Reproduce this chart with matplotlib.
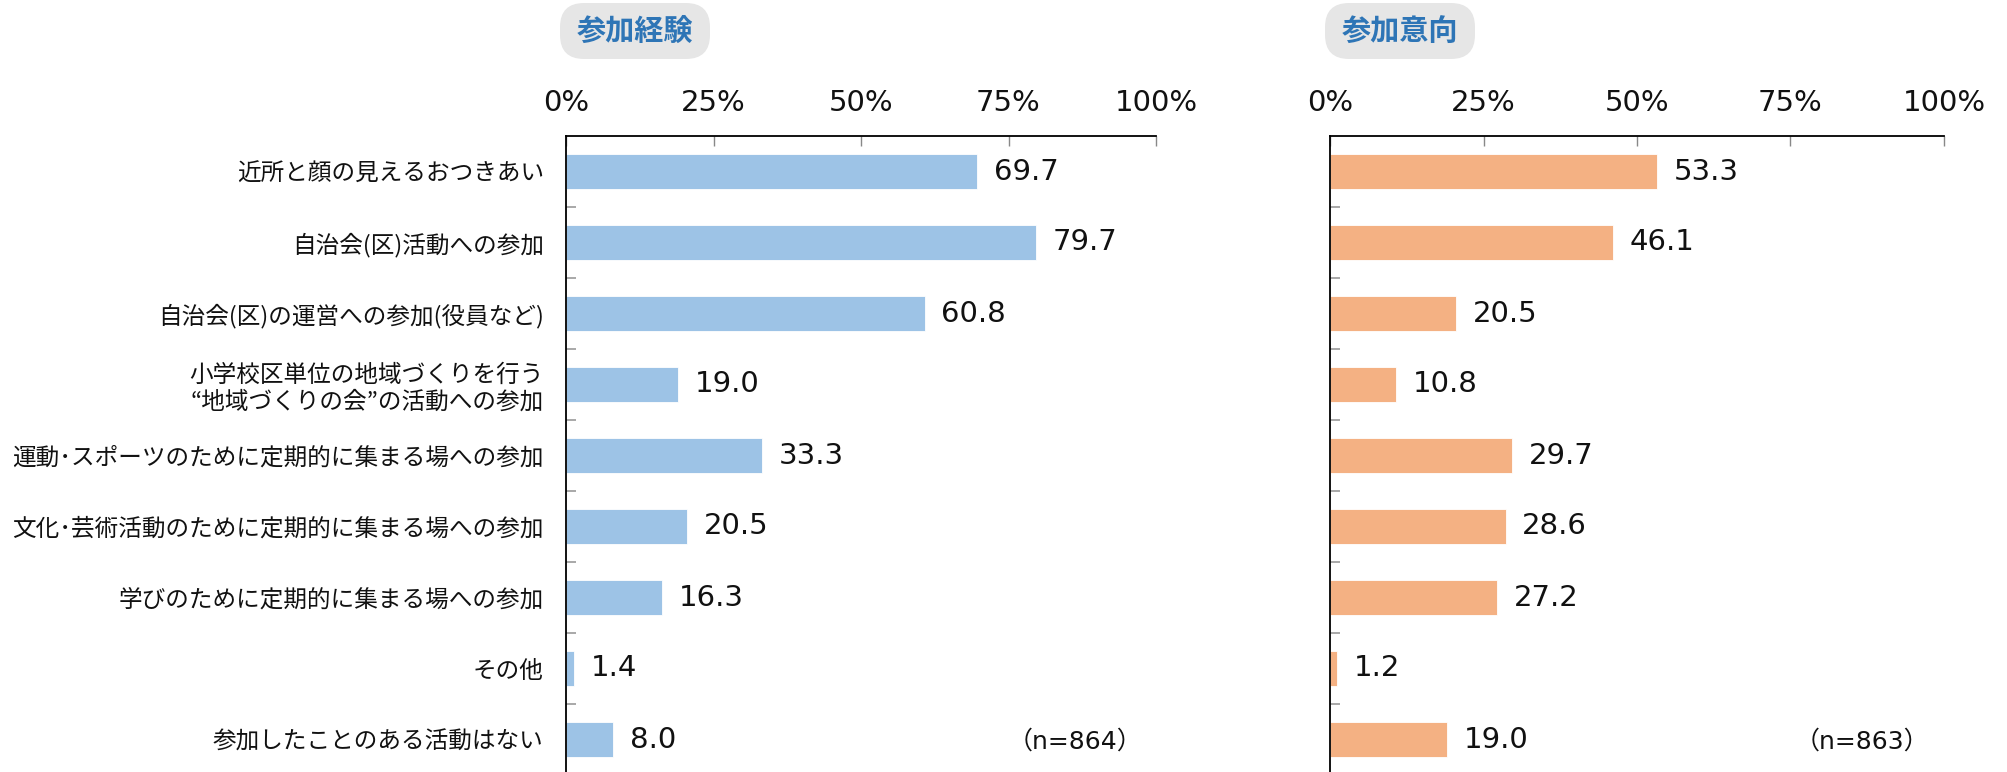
import matplotlib
matplotlib.use("Agg")
import matplotlib.pyplot as plt
from matplotlib.patches import FancyBboxPatch

plt.rcParams['font.family'] = ['Noto Sans CJK JP', 'DejaVu Sans']
NUM_FONT = ['DejaVu Sans', 'Noto Sans CJK JP']

categories = [
    "近所と顔の見えるおつきあい",
    "自治会(区)活動への参加",
    "自治会(区)の運営への参加(役員など)",
    "小学校区単位の地域づくりを行う\n“地域づくりの会”の活動への参加",
    "運動･スポーツのために定期的に集まる場への参加",
    "文化･芸術活動のために定期的に集まる場への参加",
    "学びのために定期的に集まる場への参加",
    "その他",
    "参加したことのある活動はない",
]
experience = [69.7, 79.7, 60.8, 19.0, 33.3, 20.5, 16.3, 1.4, 8.0]
intention = [53.3, 46.1, 20.5, 10.8, 29.7, 28.6, 27.2, 1.2, 19.0]
xticks = [0, 25, 50, 75, 100]
panel_titles = ["参加経験", "参加意向"]
n_labels = ["（n=864）", "（n=863）"]

W, H = 2007, 772
fig = plt.figure(figsize=(W / 100, H / 100), dpi=100)

def px_axes(x0, x1, top, bottom):
    return fig.add_axes([x0 / W, 1 - bottom / H, (x1 - x0) / W, (bottom - top) / H])

ax1 = px_axes(566, 1156, 136, 775)
ax2 = px_axes(1330, 1944, 136, 775)

def draw_panel(ax, values, color, labels):
    ypos = list(range(len(values)))
    ax.barh(ypos, values, height=0.5, color=color, edgecolor='white', linewidth=0.6)
    ax.set_xlim(0, 100)
    ax.set_ylim(len(values) - 0.5, -0.5)
    ax.xaxis.tick_top()
    ax.set_xticks(xticks)
    ax.set_xticklabels([f"{t}%" for t in xticks], fontsize=21, family=NUM_FONT, color='#111111')
    ax.tick_params(axis='x', direction='in', length=7, width=1, color='#888888', pad=14)
    ax.set_yticks(ypos)
    if labels:
        ax.set_yticklabels(categories, fontsize=17, linespacing=1.2, color='#111111')
    else:
        ax.set_yticklabels([])
    ax.tick_params(axis='y', which='major', length=0, pad=16)
    ax.set_yticks([i + 0.5 for i in ypos[:-1]], minor=True)
    ax.tick_params(axis='y', which='minor', direction='in', length=7, width=1.2, color='#999999')
    for side in ['right', 'bottom']:
        ax.spines[side].set_visible(False)
    for side in ['left', 'top']:
        ax.spines[side].set_linewidth(1.3)
        ax.spines[side].set_color('black')
    for y, v in zip(ypos, values):
        ax.annotate(f"{v:.1f}", (v, y), xytext=(12, 0), textcoords='offset points',
                    va='center', ha='left', fontsize=21, family=NUM_FONT, color='#111111')

draw_panel(ax1, experience, '#9dc3e6', True)
draw_panel(ax2, intention, '#f4b183', False)

# panel headings in rounded grey boxes
for cx, title in zip([635, 1400], panel_titles):
    box = FancyBboxPatch(((cx - 75) / W, 1 - 59 / H), 150 / W, 56 / H,
                         boxstyle="round,pad=0,rounding_size=0.012",
                         transform=fig.transFigure, facecolor='#e6e6e6',
                         edgecolor='none', mutation_aspect=W / H)
    fig.patches.append(box)
    fig.text(cx / W, 1 - 31 / H, title, ha='center', va='center',
             fontsize=21, fontweight='bold', color='#2e75b6')

for cx, lab in zip([1075, 1862], n_labels):
    fig.text(cx / W, 1 - 742 / H, lab, ha='center', va='center', fontsize=18,
             family=NUM_FONT, color='#111111')

fig.savefig("out.png", dpi=100)
